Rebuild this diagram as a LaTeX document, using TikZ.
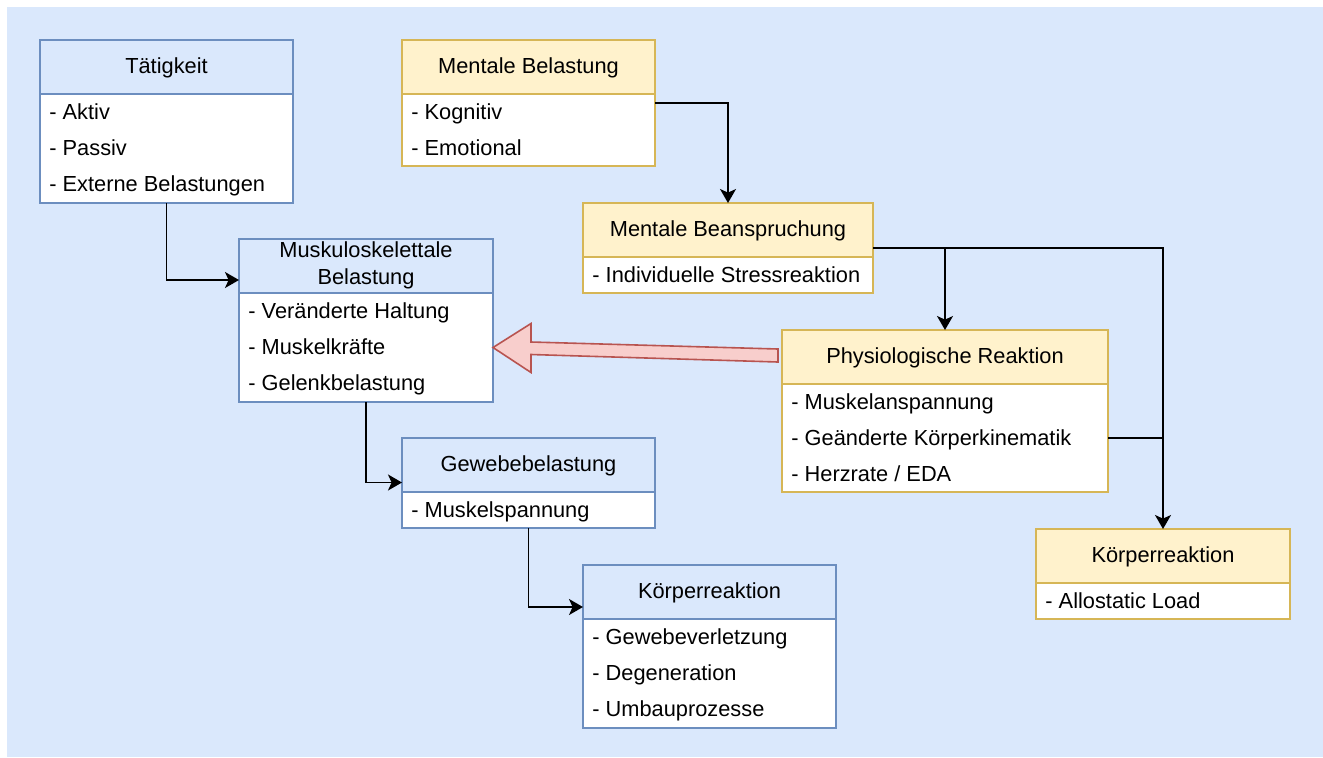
\documentclass[tikz,border=0pt]{standalone}
\usepackage{fontspec}
\setmainfont{Liberation Sans}
\usetikzlibrary{arrows.meta,calc}
\definecolor{bgblue}{HTML}{DAE8FC}
\definecolor{hblue}{HTML}{DAE8FC}
\definecolor{sblue}{HTML}{6C8EBF}
\definecolor{hyel}{HTML}{FFF2CC}
\definecolor{syel}{HTML}{D6B656}
\definecolor{rfill}{HTML}{F8CECC}
\definecolor{rdraw}{HTML}{B85450}
\tikzset{
  box/.style={draw, line width=0.75pt, inner sep=0pt, outer sep=0pt, anchor=north west},
  bhead/.style={box, fill=hblue, draw=sblue, minimum height=27pt, text height=8.3pt, text depth=2.3pt},
  yhead/.style={box, fill=hyel, draw=syel, minimum height=27pt, text height=8.3pt, text depth=2.3pt},
  bbody/.style={box, fill=white, draw=sblue},
  ybody/.style={box, fill=white, draw=syel},
  item/.style={anchor=base west, inner sep=0pt},
  conn/.style={line width=0.85pt, black},
  arr/.style={conn, -{Stealth[length=7pt, width=8pt, inset=1.8pt]}},
}
\begin{document}
\begin{tikzpicture}[x=0.5pt, y=-0.5pt, font=\fontsize{10.9pt}{13.5pt}\selectfont]
\useasboundingbox (0,0) rectangle (1323,757);
\fill[bgblue] (7,7) rectangle (1323,757);

% Taetigkeit
\node[bhead, minimum width=126.5pt] (tat) at (40,40) {Tätigkeit};
\node[bbody, minimum width=126.5pt, minimum height=54.5pt] (tatb) at (tat.south west) {};
\node[item] (tat1) at ([xshift=4.5pt,yshift=-12.5pt]tatb.north west) {- Aktiv};
\node[item] (tat2) at ([xshift=4.5pt,yshift=-30.5pt]tatb.north west) {- Passiv};
\node[item] (tat3) at ([xshift=4.5pt,yshift=-48.5pt]tatb.north west) {- Externe Belastungen};

% Mentale Belastung
\node[yhead, minimum width=126.5pt] (mbel) at (402,40) {Mentale Belastung};
\node[ybody, minimum width=126.5pt, minimum height=36pt] (mbelb) at (mbel.south west) {};
\node[item] (mbel1) at ([xshift=4.5pt,yshift=-12.5pt]mbelb.north west) {- Kognitiv};
\node[item] (mbel2) at ([xshift=4.5pt,yshift=-30.5pt]mbelb.north west) {- Emotional};

% Mentale Beanspruchung
\node[yhead, minimum width=145pt] (mbean) at (583,203) {Mentale Beanspruchung};
\node[ybody, minimum width=145pt, minimum height=18pt] (mbeanb) at (mbean.south west) {};
\node[item] (mbean1) at ([xshift=4.5pt,yshift=-12.5pt]mbeanb.north west) {- Individuelle Stressreaktion};

% Muskuloskelettale Belastung
\node[box, fill=hblue, draw=sblue, minimum width=127pt, minimum height=27pt] (musk) at (239,239)
  {\raisebox{-1.2pt}{\begin{tabular}{@{}c@{}}Muskuloskelettale\\Belastung\end{tabular}}};
\node[bbody, minimum width=127pt, minimum height=54.5pt] (muskb) at (musk.south west) {};
\node[item] (musk1) at ([xshift=4.5pt,yshift=-12.5pt]muskb.north west) {- Veränderte Haltung};
\node[item] (musk2) at ([xshift=4.5pt,yshift=-30.5pt]muskb.north west) {- Muskelkräfte};
\node[item] (musk3) at ([xshift=4.5pt,yshift=-48.5pt]muskb.north west) {- Gelenkbelastung};

% Physiologische Reaktion
\node[yhead, minimum width=163pt] (phys) at (782,330) {Physiologische Reaktion};
\node[ybody, minimum width=163pt, minimum height=54pt] (physb) at (phys.south west) {};
\node[item] (phys1) at ([xshift=4.5pt,yshift=-12.5pt]physb.north west) {- Muskelanspannung};
\node[item] (phys2) at ([xshift=4.5pt,yshift=-30.5pt]physb.north west) {- Geänderte Körperkinematik};
\node[item] (phys3) at ([xshift=4.5pt,yshift=-48.5pt]physb.north west) {- Herzrate / EDA};

% Gewebebelastung
\node[bhead, minimum width=126.5pt] (gew) at (402,438) {Gewebebelastung};
\node[bbody, minimum width=126.5pt, minimum height=18pt] (gewb) at (gew.south west) {};
\node[item] (gew1) at ([xshift=4.5pt,yshift=-12.5pt]gewb.north west) {- Muskelspannung};

% Koerperreaktion (blau)
\node[bhead, minimum width=126.5pt] (kb) at (583,565) {Körperreaktion};
\node[bbody, minimum width=126.5pt, minimum height=54.5pt] (kbb) at (kb.south west) {};
\node[item] (kb1) at ([xshift=4.5pt,yshift=-12.5pt]kbb.north west) {- Gewebeverletzung};
\node[item] (kb2) at ([xshift=4.5pt,yshift=-30.5pt]kbb.north west) {- Degeneration};
\node[item] (kb3) at ([xshift=4.5pt,yshift=-48.5pt]kbb.north west) {- Umbauprozesse};

% Koerperreaktion (gelb)
\node[yhead, minimum width=127pt] (ky) at (1036,529) {Körperreaktion};
\node[ybody, minimum width=127pt, minimum height=18pt] (kyb) at (ky.south west) {};
\node[item] (ky1) at ([xshift=4.5pt,yshift=-12.5pt]kyb.north west) {- Allostatic Load};

% connectors
\draw[arr] (tatb.south) |- ([yshift=6.5pt]musk.south west);
\draw[arr] ([yshift=-4.5pt]mbelb.north east) -| (mbean.north);
\coordinate (j1) at ([yshift=4.5pt]mbean.south east);
\draw[arr] (j1) -| (ky.north);
\draw[arr] (j1 -| phys.north) -- (phys.north);
\draw[conn] (physb.east) -- (physb.east -| ky.north);
\draw[arr] (muskb.south) |- ([yshift=4.75pt]gew.south west);
\draw[arr] (gewb.south) |- ([yshift=6pt]kb.south west);

% big red arrow
\coordinate (rtip) at (muskb.east);
\coordinate (rtail) at ($(phys.west)+(-4,-1.5)$);
\draw[fill=rfill, draw=rdraw, line width=0.8pt, line join=miter]
  ($(rtail)+(0,-6.5)$) -- ($(rtip)+(38,-5.5)$) -- ($(rtip)+(38,-24)$) -- (rtip)
  -- ($(rtip)+(38,25)$) -- ($(rtip)+(38,7)$) -- ($(rtail)+(0,6.5)$) -- cycle;
\end{tikzpicture}
\end{document}
